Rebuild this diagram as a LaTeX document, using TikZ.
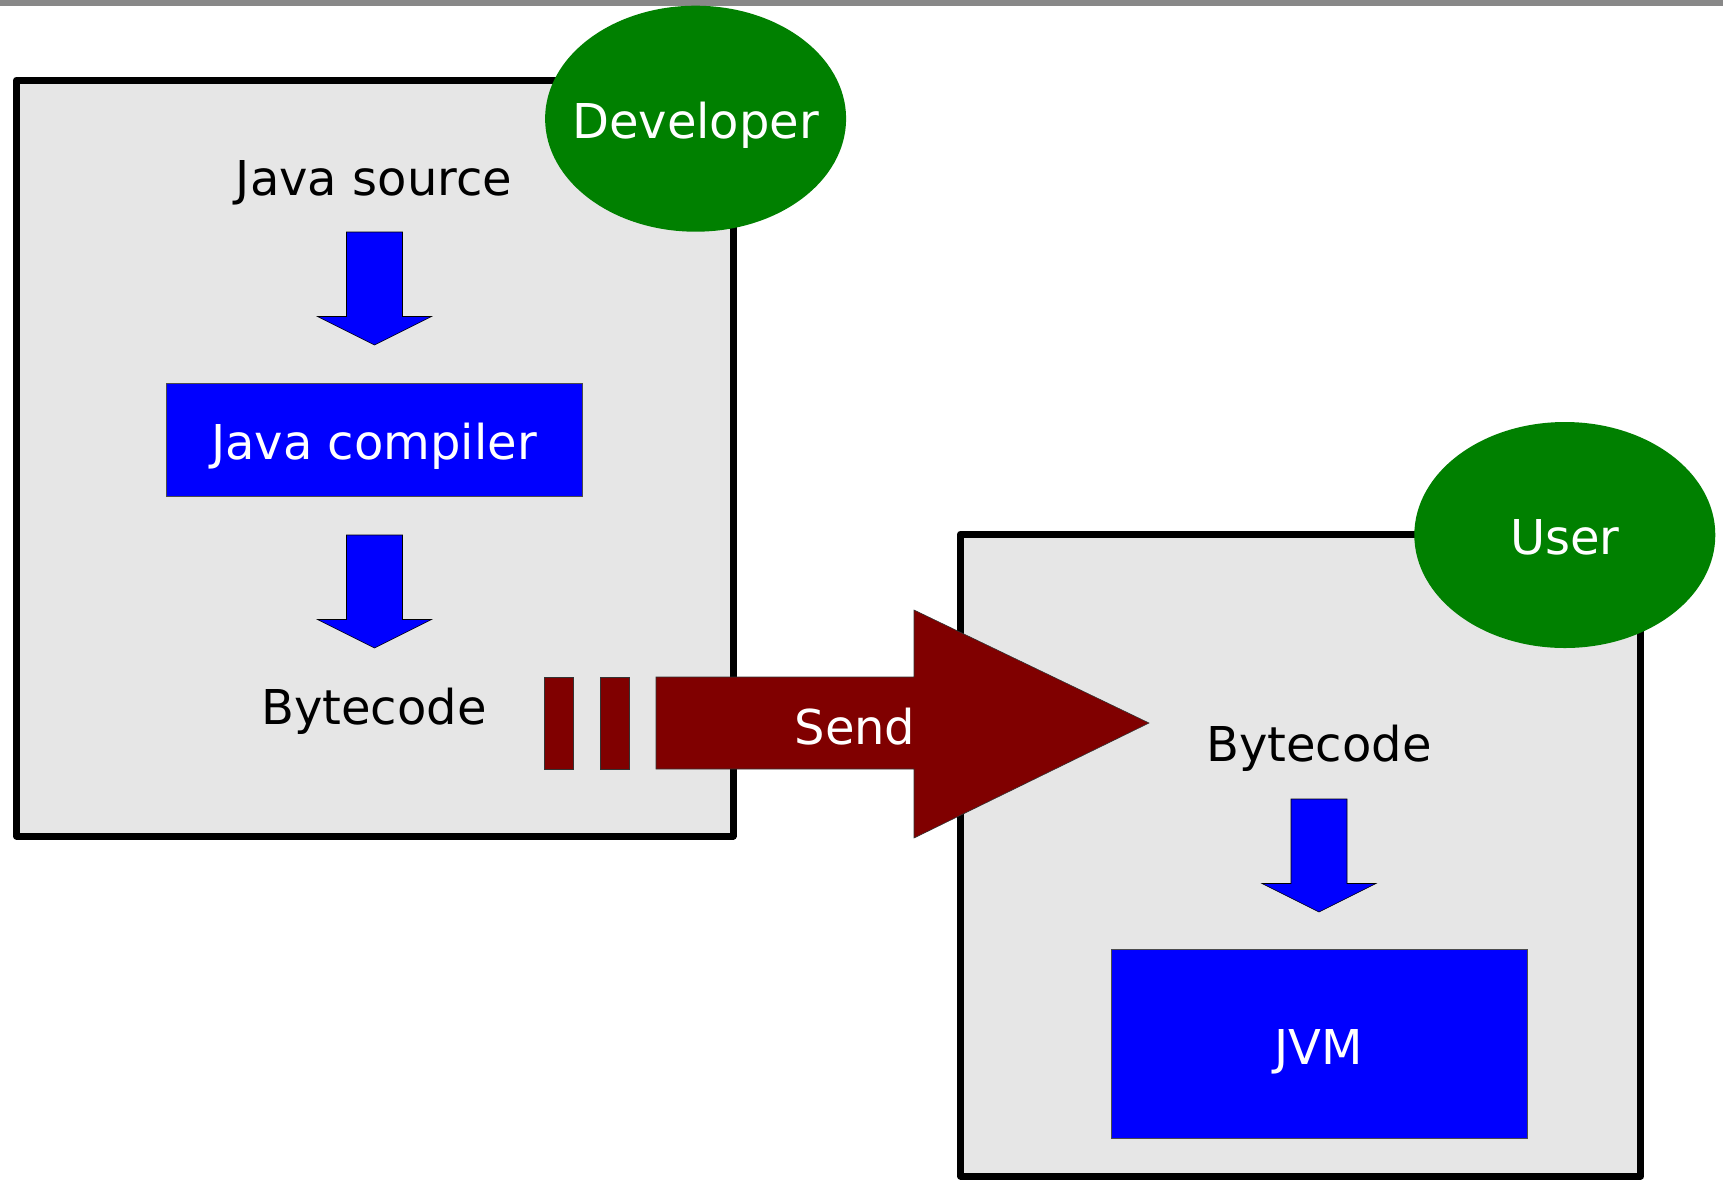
\documentclass[tikz,border=0pt]{standalone}
\usepackage{fontspec}
\setmainfont{DejaVu Sans}
\usetikzlibrary{shapes.geometric,calc}
\definecolor{panelgray}{HTML}{E6E6E6}
\definecolor{rolegreen}{HTML}{008000}
\definecolor{stepblue}{HTML}{0000FF}
\definecolor{sendred}{HTML}{800000}
\definecolor{rulegray}{HTML}{888888}
\tikzset{
  panel/.style={fill=panelgray, draw=black, line width=7pt, line join=round},
  role/.style={ellipse, fill=rolegreen, text=white, minimum width=301pt, minimum height=226pt, inner sep=0pt},
  label/.style={font=\fontsize{48}{56}\selectfont, anchor=base, inner sep=0pt},
  stage/.style={fill=stepblue, draw=black!70, line width=0.8pt},
  flow/.style={fill=stepblue, draw=black, line width=0.6pt, line join=miter},
  sendshape/.style={fill=sendred, draw=black!80, line width=0.6pt}
}
% block arrow pointing down: #1 = top centre
\newcommand\blockdown[1]{%
  \draw[flow] ($(#1)+(-28,0)$) -- ++(56,0) -- ++(0,84.5) -- ++(29,0)
    -- ($(#1)+(0,113)$) -- ($(#1)+(-57,84.5)$) -- ++(29,0) -- cycle;}
\begin{document}
\begin{tikzpicture}[x=1pt,y=-1pt]
\useasboundingbox (0,0) rectangle (1723,1179);
\fill[white] (0,0) rectangle (1723,1179);
\draw[rulegray, line width=6.5pt] (0,3) -- (1723,3);

% developer side
\draw[panel] (16.5,80) rectangle (733,836);
\node[role] (dev) at (695.6,118.7) {};
\node[label, text=white] (devtxt) at (695.6,138.5) {Developer};
\node[label] (src) at (374,195.6) {Java source};
\coordinate (a1) at (374.5,232);
\blockdown{a1}
\fill[stage] (166,383.5) rectangle (582,496.7);
\node[label, text=white] (javac) at (374,459) {Java compiler};
\coordinate (a2) at (374.5,535);
\blockdown{a2}
\node[label] (bc1) at (374,724) {Bytecode};

% user side
\draw[panel] (960.5,534) rectangle (1640.7,1176);
\node[role] (usr) at (1564.8,535) {};
\node[label, text=white] (usrtxt) at (1564.8,554) {User};
\node[label] (bc2) at (1319,761.5) {Bytecode};
\coordinate (a3) at (1319,799);
\blockdown{a3}
\fill[stage] (1111,949.5) rectangle (1527.5,1138.5);
\node[label, text=white] (jvm) at (1319,1064) {JVM};

% transfer arrow
\draw[sendshape] (544,677) rectangle (573,769);
\draw[sendshape] (600,677) rectangle (629,769);
\draw[sendshape] (656,677) -- (914,677) -- (914,610) -- (1149,723)
  -- (914,838) -- (914,769) -- (656,769) -- cycle;
\node[label, text=white] (send) at (855,744) {Send};
\end{tikzpicture}
\end{document}
